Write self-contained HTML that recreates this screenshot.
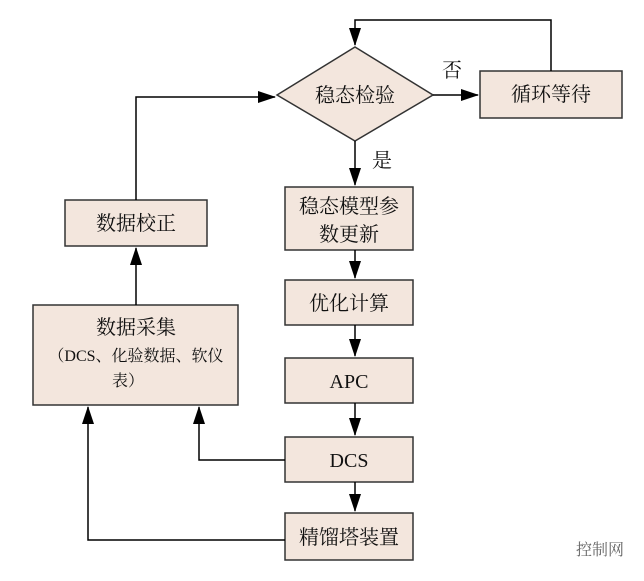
<!DOCTYPE html>
<html><head><meta charset="utf-8"><style>
html,body{margin:0;padding:0;background:#fff;}
svg text{font-family:"Liberation Serif","Noto Serif CJK SC",serif;fill:#111;}
</style></head><body>
<svg width="644" height="576" viewBox="0 0 644 576" xmlns="http://www.w3.org/2000/svg">
<defs><marker id="a" markerWidth="18" markerHeight="12" refX="17" refY="6" orient="auto" markerUnits="userSpaceOnUse"><path d="M0,0 L18,6 L0,12 z" fill="#000"/></marker></defs>
<g fill="#f3e6dd" stroke="#333" stroke-width="1.5">
<polygon points="277,95 355,47 433,95 355,141"/>
<rect x="480" y="71" width="142" height="47"/>
<rect x="285" y="187" width="128" height="63"/>
<rect x="285" y="280" width="128" height="45"/>
<rect x="285" y="358" width="128" height="45"/>
<rect x="285" y="437" width="128" height="45"/>
<rect x="285" y="513" width="128" height="47"/>
<rect x="65" y="200" width="142" height="46"/>
<rect x="33" y="305" width="205" height="100"/>
</g>
<g stroke="#000" stroke-width="1.5" fill="none">
<path d="M433,95 L478,95" marker-end="url(#a)"/>
<path d="M551,71 L551,20 L355,20 L355,45" marker-end="url(#a)"/>
<path d="M355,141 L355,185" marker-end="url(#a)"/>
<path d="M355,250 L355,278" marker-end="url(#a)"/>
<path d="M355,325 L355,356" marker-end="url(#a)"/>
<path d="M355,403 L355,435" marker-end="url(#a)"/>
<path d="M355,482 L355,511" marker-end="url(#a)"/>
<path d="M136,200 L136,97 L275,97" marker-end="url(#a)"/>
<path d="M136,305 L136,248" marker-end="url(#a)"/>
<path d="M285,460 L199,460 L199,407" marker-end="url(#a)"/>
<path d="M285,540 L88,540 L88,407" marker-end="url(#a)"/>
</g>
<g font-size="20" text-anchor="middle">
<text x="355" y="102">稳态检验</text>
<text x="551" y="101">循环等待</text>
<text x="452" y="77">否</text>
<text x="382" y="167">是</text>
<text x="349" y="213">稳态模型参</text>
<text x="349" y="241">数更新</text>
<text x="349" y="310">优化计算</text>
<text x="349" y="388">APC</text>
<text x="349" y="467">DCS</text>
<text x="349" y="544">精馏塔装置</text>
<text x="136" y="230">数据校正</text>
<text x="136" y="334">数据采集</text>
<text x="136" y="361" font-size="16">（DCS、化验数据、软仪</text>
<text x="128" y="386" font-size="16">表）</text>
<text x="600" y="555" font-size="16" style="fill:#666">控制网</text>
</g>
</svg>
</body></html>
